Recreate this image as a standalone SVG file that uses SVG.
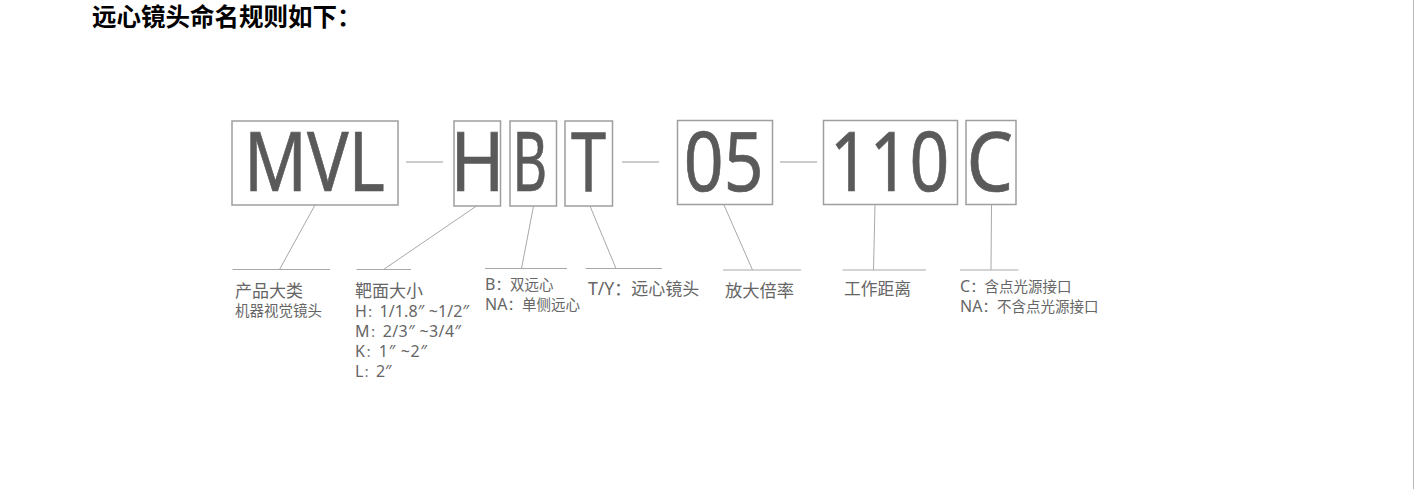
<svg xmlns="http://www.w3.org/2000/svg" width="1414" height="489" viewBox="0 0 1414 489">
<style>
.box{fill:none;stroke:#9e9e9e;stroke-width:1.5}
.big{font-family:"Noto Sans","Liberation Sans",sans-serif;font-size:82px;fill:#5a5a5a;stroke:#5a5a5a;stroke-width:0.7}
.ln{stroke:#a8a8a8;stroke-width:1;fill:none}
.dash{stroke:#9a9a9a;stroke-width:1.2}
.lb{font-family:"Noto Sans","Noto Sans CJK SC",sans-serif;fill:#666}
.cj{font-family:"Noto Sans CJK SC",sans-serif}
.title{font-family:"Noto Sans CJK SC",sans-serif;font-weight:bold;font-size:24.5px;fill:#000}
</style>
<rect x="0" y="0" width="1414" height="489" fill="#ffffff"/>
<line x1="1413.5" y1="0" x2="1413.5" y2="489" stroke="#b8b8b8" stroke-width="1"/>
<text class="title" x="92" y="26">远心镜头命名规则如下：</text>

<g id="node-MVL">
<rect class="box" x="232" y="121" width="166" height="84"/>
<text class="big" x="244" y="190.5" textLength="141" lengthAdjust="spacingAndGlyphs">MVL</text>
</g>
<g id="node-H">
<rect class="box" x="454" y="121" width="46.5" height="85"/>
<text class="big" x="450.3" y="190.5" textLength="54.5" lengthAdjust="spacingAndGlyphs">H</text>
</g>
<g id="node-B">
<rect class="box" x="510" y="121" width="46.5" height="85"/>
<text class="big" x="512.3" y="190.5" textLength="35" lengthAdjust="spacingAndGlyphs">B</text>
</g>
<g id="node-T">
<rect class="box" x="565" y="121" width="47.5" height="85"/>
<text class="big" x="570.9" y="190.5" textLength="35.1" lengthAdjust="spacingAndGlyphs">T</text>
</g>
<g id="node-05">
<rect class="box" x="677.5" y="120.5" width="95" height="84"/>
<text class="big" x="683.8" y="190.5" textLength="79.7" lengthAdjust="spacingAndGlyphs">05</text>
</g>
<g id="node-110">
<rect class="box" x="823.5" y="120.5" width="134" height="84"/>
<text class="big" x="829.7" y="190.5" textLength="119.6" lengthAdjust="spacingAndGlyphs">110</text>
</g>
<g id="node-C">
<rect class="box" x="966" y="120.5" width="50" height="84"/>
<text class="big" x="966.5" y="190.5" textLength="46.6" lengthAdjust="spacingAndGlyphs">C</text>
</g>

<g id="connectors">
<line class="dash" x1="406" y1="162" x2="443" y2="162"/>
<line class="dash" x1="622" y1="162" x2="659" y2="162"/>
<line class="dash" x1="780" y1="162" x2="817" y2="162"/>
<polyline class="ln" points="315,205 279.5,269.5"/>
<line class="ln" x1="232.5" y1="269.5" x2="330" y2="269.5"/>
<polyline class="ln" points="476.5,206 383.5,269.5"/>
<line class="ln" x1="356.5" y1="269.5" x2="411" y2="269.5"/>
<polyline class="ln" points="533.5,206 521.5,268.5"/>
<line class="ln" x1="485" y1="268.5" x2="567" y2="268.5"/>
<polyline class="ln" points="590,206 616,268.5"/>
<line class="ln" x1="585.5" y1="268.5" x2="662" y2="268.5"/>
<polyline class="ln" points="724,205 752.5,270"/>
<line class="ln" x1="723" y1="270" x2="801" y2="270"/>
<polyline class="ln" points="875,205 873.5,270"/>
<line class="ln" x1="842.5" y1="270" x2="926" y2="270"/>
<polyline class="ln" points="991.5,205 991,270"/>
<line class="ln" x1="960" y1="270" x2="1018.5" y2="270"/>
</g>

<g id="label-MVL">
<text class="lb" x="235" y="297" font-size="17">产品大类</text>
<text class="lb" x="235" y="316" font-size="14.5">机器视觉镜头</text>
</g>
<g id="label-H">
<text class="lb" x="355" y="297" font-size="17">靶面大小</text>
<text class="lb" x="355" y="316.5" font-size="16" textLength="114" lengthAdjust="spacing">H<tspan class="cj" font-size="12.5">：</tspan>1/1.8″ ~1/2″</text>
<text class="lb" x="355" y="336.5" font-size="16" textLength="106" lengthAdjust="spacing">M<tspan class="cj" font-size="12.5">：</tspan>2/3″ ~3/4″</text>
<text class="lb" x="355" y="356.5" font-size="16" textLength="72" lengthAdjust="spacing">K<tspan class="cj" font-size="12.5">：</tspan>1″ ~2″</text>
<text class="lb" x="355" y="376.5" font-size="16">L<tspan class="cj" font-size="12.5">：</tspan>2″</text>
</g>
<g id="label-B">
<text class="lb" x="485" y="290" font-size="14.5"><tspan font-size="16">B</tspan>：双远心</text>
<text class="lb" x="485" y="309.5" font-size="14.5"><tspan font-size="16">NA</tspan>：单侧远心</text>
</g>
<g id="label-T">
<text class="lb" x="588" y="294.5" font-size="17"><tspan font-size="17.6">T/Y</tspan>：远心镜头</text>
</g>
<g id="label-05">
<text class="lb" x="725" y="297" font-size="17.3">放大倍率</text>
</g>
<g id="label-110">
<text class="lb" x="844" y="295" font-size="16.8">工作距离</text>
</g>
<g id="label-C">
<text class="lb" x="960" y="292.3" font-size="14.5"><tspan font-size="16">C</tspan>：含点光源接口</text>
<text class="lb" x="960" y="312.3" font-size="14.5"><tspan font-size="16">NA</tspan>：不含点光源接口</text>
</g>
</svg>
